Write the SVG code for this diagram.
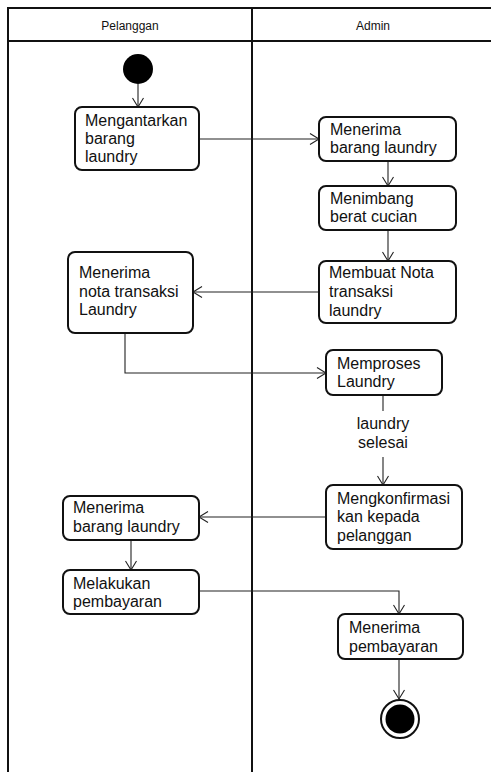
<svg xmlns="http://www.w3.org/2000/svg" width="491" height="772" viewBox="0 0 491 772">
<style>
.frame{fill:none;stroke:#111;stroke-width:2}
.box{fill:#fff;stroke:#111;stroke-width:2}
.t{font-family:"Liberation Sans",Arial,sans-serif;font-size:16px;fill:#111}
.h{font-family:"Liberation Sans",Arial,sans-serif;font-size:12px;fill:#111;text-anchor:middle}
.c{fill:none;stroke:#222;stroke-width:1.1}
</style>
<defs>
<marker id="arr" markerWidth="12" markerHeight="12" refX="0" refY="0" viewBox="-10 -6 12 12" orient="auto" markerUnits="userSpaceOnUse">
<path d="M-9,-5.5 L0,0 L-9,5.5" fill="none" stroke="#222" stroke-width="1.1"/>
</marker>
</defs>
<rect width="491" height="772" fill="#fff"/>
<g id="swimlanes">
<path class="frame" d="M8,772 V8 H491 M8,41 H491 M252,8 V772"/>
<text class="h" x="130" y="30">Pelanggan</text>
<text class="h" x="373" y="30">Admin</text>
</g>
<g id="connectors">
<path class="c" d="M138,84 V107" marker-end="url(#arr)"/>
<path class="c" d="M199,139 H319" marker-end="url(#arr)"/>
<path class="c" d="M388,161 V186" marker-end="url(#arr)"/>
<path class="c" d="M388,230 V261" marker-end="url(#arr)"/>
<path class="c" d="M319,292 H193" marker-end="url(#arr)"/>
<path class="c" d="M125,333 V373 H326" marker-end="url(#arr)"/>
<path class="c" d="M383,395 V411"/>
<path class="c" d="M383,457 V485" marker-end="url(#arr)"/>
<path class="c" d="M326,517 H199" marker-end="url(#arr)"/>
<path class="c" d="M131,540 V570" marker-end="url(#arr)"/>
<path class="c" d="M199,591 H399 V614" marker-end="url(#arr)"/>
<path class="c" d="M399,659 V699" marker-end="url(#arr)"/>
<text class="t" x="383" y="429" text-anchor="middle">laundry</text>
<text class="t" x="383" y="448" text-anchor="middle">selesai</text>
</g>
<g id="start"><circle cx="138" cy="69" r="15" fill="#000"/></g>
<g id="n1"><rect class="box" x="75" y="107" width="124" height="63" rx="7"/>
<text class="t" x="85" y="126">Mengantarkan</text><text class="t" x="85" y="144">barang</text><text class="t" x="85" y="162">laundry</text></g>
<g id="n2"><rect class="box" x="319" y="117" width="137" height="44" rx="7"/>
<text class="t" x="330" y="135">Menerima</text><text class="t" x="330" y="153">barang laundry</text></g>
<g id="n3"><rect class="box" x="319" y="186" width="137" height="44" rx="7"/>
<text class="t" x="330" y="204">Menimbang</text><text class="t" x="330" y="222">berat cucian</text></g>
<g id="n4"><rect class="box" x="319" y="261" width="137" height="62" rx="7"/>
<text class="t" x="329" y="278">Membuat Nota</text><text class="t" x="329" y="297">transaksi</text><text class="t" x="329" y="316">laundry</text></g>
<g id="n5"><rect class="box" x="68" y="252" width="125" height="81" rx="7"/>
<text class="t" x="79" y="278">Menerima</text><text class="t" x="79" y="297">nota transaksi</text><text class="t" x="79" y="315">Laundry</text></g>
<g id="n6"><rect class="box" x="326" y="350" width="116" height="45" rx="7"/>
<text class="t" x="337" y="369">Memproses</text><text class="t" x="337" y="387">Laundry</text></g>
<g id="n7"><rect class="box" x="326" y="485" width="136" height="64" rx="7"/>
<text class="t" x="337" y="504">Mengkonfirmasi</text><text class="t" x="337" y="522">kan kepada</text><text class="t" x="337" y="541">pelanggan</text></g>
<g id="n8"><rect class="box" x="63" y="496" width="136" height="44" rx="7"/>
<text class="t" x="73" y="513">Menerima</text><text class="t" x="73" y="532">barang laundry</text></g>
<g id="n9"><rect class="box" x="63" y="570" width="136" height="44" rx="7"/>
<text class="t" x="73" y="589">Melakukan</text><text class="t" x="73" y="607">pembayaran</text></g>
<g id="n10"><rect class="box" x="338" y="614" width="125" height="45" rx="7"/>
<text class="t" x="349" y="633">Menerima</text><text class="t" x="349" y="652">pembayaran</text></g>
<g id="end"><circle cx="400" cy="719" r="19" fill="#fff" stroke="#111" stroke-width="2"/><circle cx="400" cy="719" r="14.5" fill="#000"/></g>
</svg>
